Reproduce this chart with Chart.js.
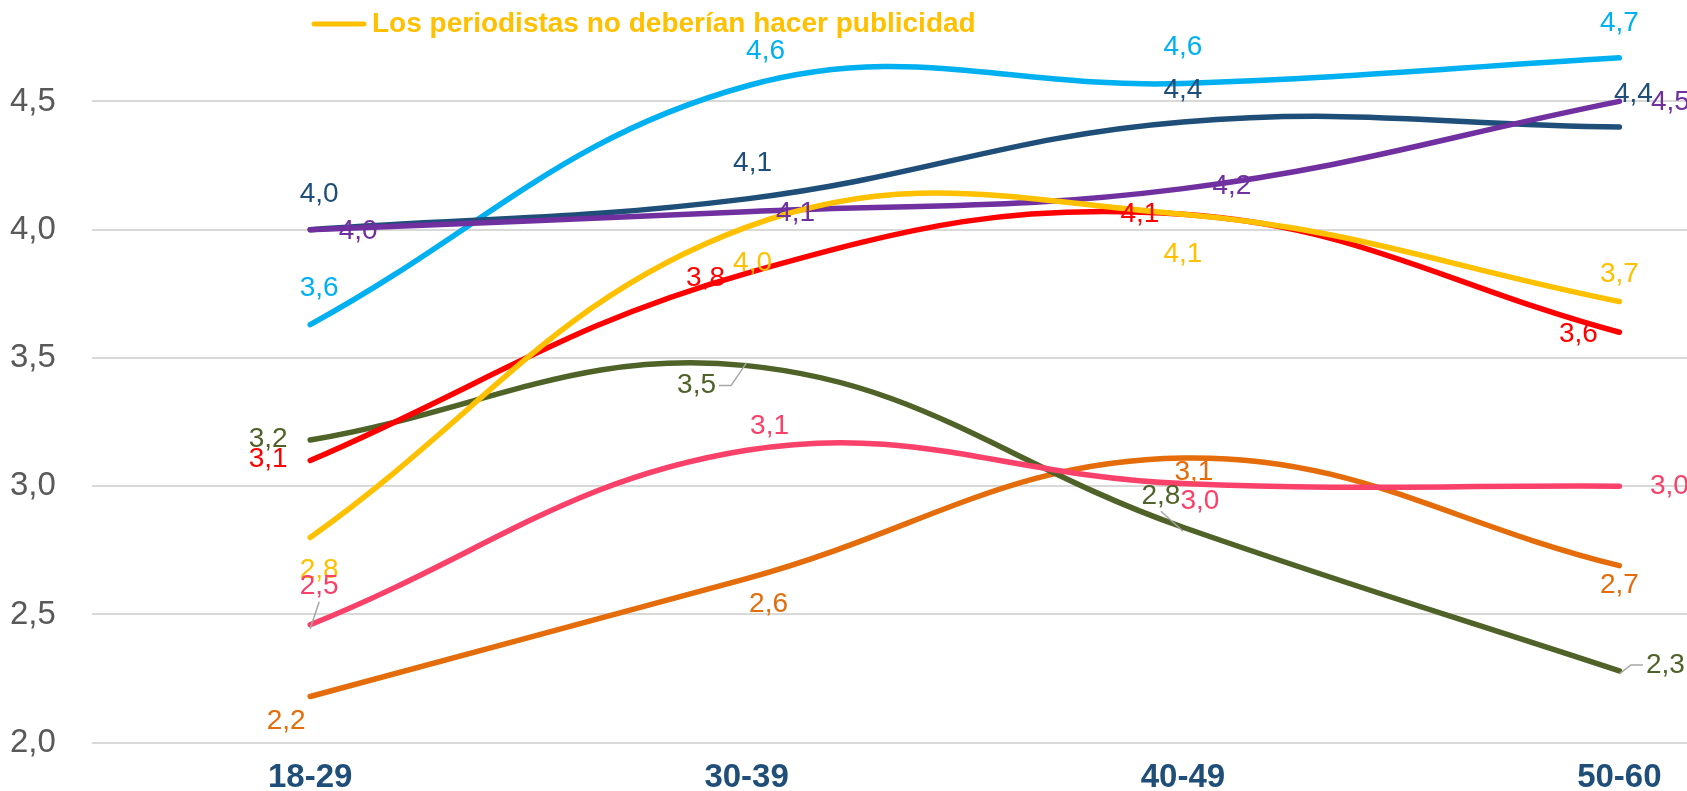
<!DOCTYPE html>
<html lang="es">
<head>
<meta charset="utf-8">
<title>Valoración por grupo de edad</title>
<script src="https://cdn.jsdelivr.net/npm/chart.js@4.4.1/dist/chart.umd.min.js"></script>
<style>
  html, body { margin: 0; padding: 0; background: #fff; }
  #wrap { position: relative; width: 1687px; height: 791px; }
</style>
</head>
<body>
<div id="wrap"><canvas id="chart"></canvas></div>
<script>
// --- datos ---
const CATEGORIAS = ["18-29", "30-39", "40-49", "50-60"];
const Y_TICKS = [2.0, 2.5, 3.0, 3.5, 4.0, 4.5];

const serieAmarilla   = [2.80, 4.01, 4.06, 3.72];
const serieRoja       = [3.10, 3.83, 4.06, 3.60];
const serieMorada     = [4.00, 4.07, 4.16, 4.50];
const serieAzulOscuro = [4.00, 4.12, 4.42, 4.40];
const serieCeleste    = [3.63, 4.56, 4.57, 4.67];
const serieRosa       = [2.46, 3.14, 3.01, 3.00];
const serieVerde      = [3.18, 3.47, 2.84, 2.28];
const serieNaranja    = [2.18, 2.64, 3.11, 2.69];

const LEYENDA_AMARILLA = "Los periodistas no deberían hacer publicidad";

// --- estilo de las etiquetas (desplazamiento en px respecto al punto) ---
const FONT = '"Liberation Sans", Arial, sans-serif';
const fmt = v => Number(v).toFixed(1).replace(".", ",");

function serie(label, valores, color, offsets, leaders) {
  return {
    label, data: valores.map((y, i) => ({ x: i, y })),
    borderColor: color, backgroundColor: color,
    borderWidth: 5.5, tension: 0.4, pointRadius: 0,
    borderCapStyle: "round", borderJoinStyle: "round", fill: false,
    labelOffsets: offsets, leaders: leaders || []
  };
}

const datasets = [
  serie(LEYENDA_AMARILLA, serieAmarilla, "#FFC000", [[9, 33], [6, 36], [0, 40], [0, -27]]),
  serie("", serieRoja, "#FF0000", [[-42, -1], [-41, 5], [-43, 0], [-41, 2]]),
  serie("", serieMorada, "#7030A0", [[48, 2], [49, 2], [49, -2], [51, 1]]),
  serie("", serieAzulOscuro, "#1F4E79", [[9, -35], [6, -36], [0, -32], [14, -33]]),
  serie("", serieCeleste, "#00B0F0", [[9, -36], [19, -35], [0, -36], [0, -35]]),
  serie("", serieRosa, "#F9416A", [[9, -38], [23, -24], [17, 18], [50, 0]], [0]),
  serie("", serieVerde, "#4F6228", [[-42, -1], [-50, 20], [-22, -31], [46, -6]], [1, 2, 3]),
  serie("", serieNaranja, "#E46C0A", [[-24, 25], [22, 26], [11, 14], [0, 20]])
];

const etiquetas = {
  id: "etiquetas",
  afterDatasetsDraw(chart) {
    const ctx = chart.ctx;
    ctx.save();
    ctx.font = "28px " + FONT;
    ctx.textAlign = "center";
    ctx.textBaseline = "middle";
    chart.data.datasets.forEach((ds, di) => {
      chart.getDatasetMeta(di).data.forEach((pt, i) => {
        const [dx, dy] = ds.labelOffsets[i];
        const txt = fmt(ds.data[i].y);
        const lx = pt.x + dx, ly = pt.y + dy;
        if (ds.leaders.includes(i)) {
          const w = ctx.measureText(txt).width / 2 + 3;
          ctx.strokeStyle = "#A6A6A6";
          ctx.lineWidth = 1.5;
          ctx.beginPath();
          if (Math.abs(dx) > Math.abs(dy)) {
            const ex = lx - Math.sign(dx) * w;
            ctx.moveTo(ex, ly);
            ctx.lineTo(ex - Math.sign(dx) * 12, ly);
            ctx.lineTo(pt.x, pt.y - Math.sign(dy) * 3);
          } else {
            ctx.moveTo(lx, ly - Math.sign(dy) * 15);
            ctx.lineTo(pt.x, pt.y - Math.sign(dy) * 4);
          }
          ctx.stroke();
        }
        ctx.fillStyle = ds.borderColor;
        ctx.fillText(txt, lx, ly);
      });
    });
    ctx.restore();
  }
};

// leyenda (solo se ve la última entrada, la parte superior está recortada)
const leyenda = {
  id: "leyenda",
  afterDraw(chart) {
    const ds = chart.data.datasets[0];
    const ctx = chart.ctx;
    ctx.save();
    ctx.strokeStyle = ds.borderColor;
    ctx.lineWidth = 5;
    ctx.lineCap = "round";
    ctx.beginPath();
    ctx.moveTo(314, 24);
    ctx.lineTo(364, 24);
    ctx.stroke();
    ctx.fillStyle = ds.borderColor;
    ctx.font = "bold 28px " + FONT;
    ctx.textBaseline = "middle";
    ctx.fillText(ds.label, 372, 24);
    ctx.restore();
  }
};

Chart.defaults.font.family = FONT;

new Chart(document.getElementById("chart").getContext("2d"), {
  type: "line",
  data: { datasets },
  options: {
    responsive: true, maintainAspectRatio: false, animation: false,
    layout: { padding: { left: 10, right: 0, top: 0, bottom: -22 } },
    plugins: { legend: { display: false }, tooltip: { enabled: false } },
    scales: {
      x: {
        type: "linear", min: -0.5, max: 3.155,
        afterBuildTicks: s => { s.ticks = CATEGORIAS.map((_, i) => ({ value: i })); },
        grid: { display: false, drawTicks: false }, border: { display: false },
        ticks: { padding: 17, color: "#1F4E79", autoSkip: false, maxRotation: 0,
                 font: { size: 33, weight: "bold", lineHeight: 1.1 },
                 callback: v => CATEGORIAS[v] }
      },
      y: {
        min: 2, max: 4.831,
        afterBuildTicks: s => { s.ticks = Y_TICKS.map(v => ({ value: v })); },
        afterFit: s => { s.width = 82; },
        grid: { color: "#D9D9D9", lineWidth: 2, drawTicks: false }, border: { display: false },
        ticks: { padding: 0, crossAlign: "far", color: "#595959",
                 font: { size: 33, lineHeight: 1 }, callback: v => fmt(v) }
      }
    }
  },
  plugins: [etiquetas, leyenda]
});
</script>
</body>
</html>
